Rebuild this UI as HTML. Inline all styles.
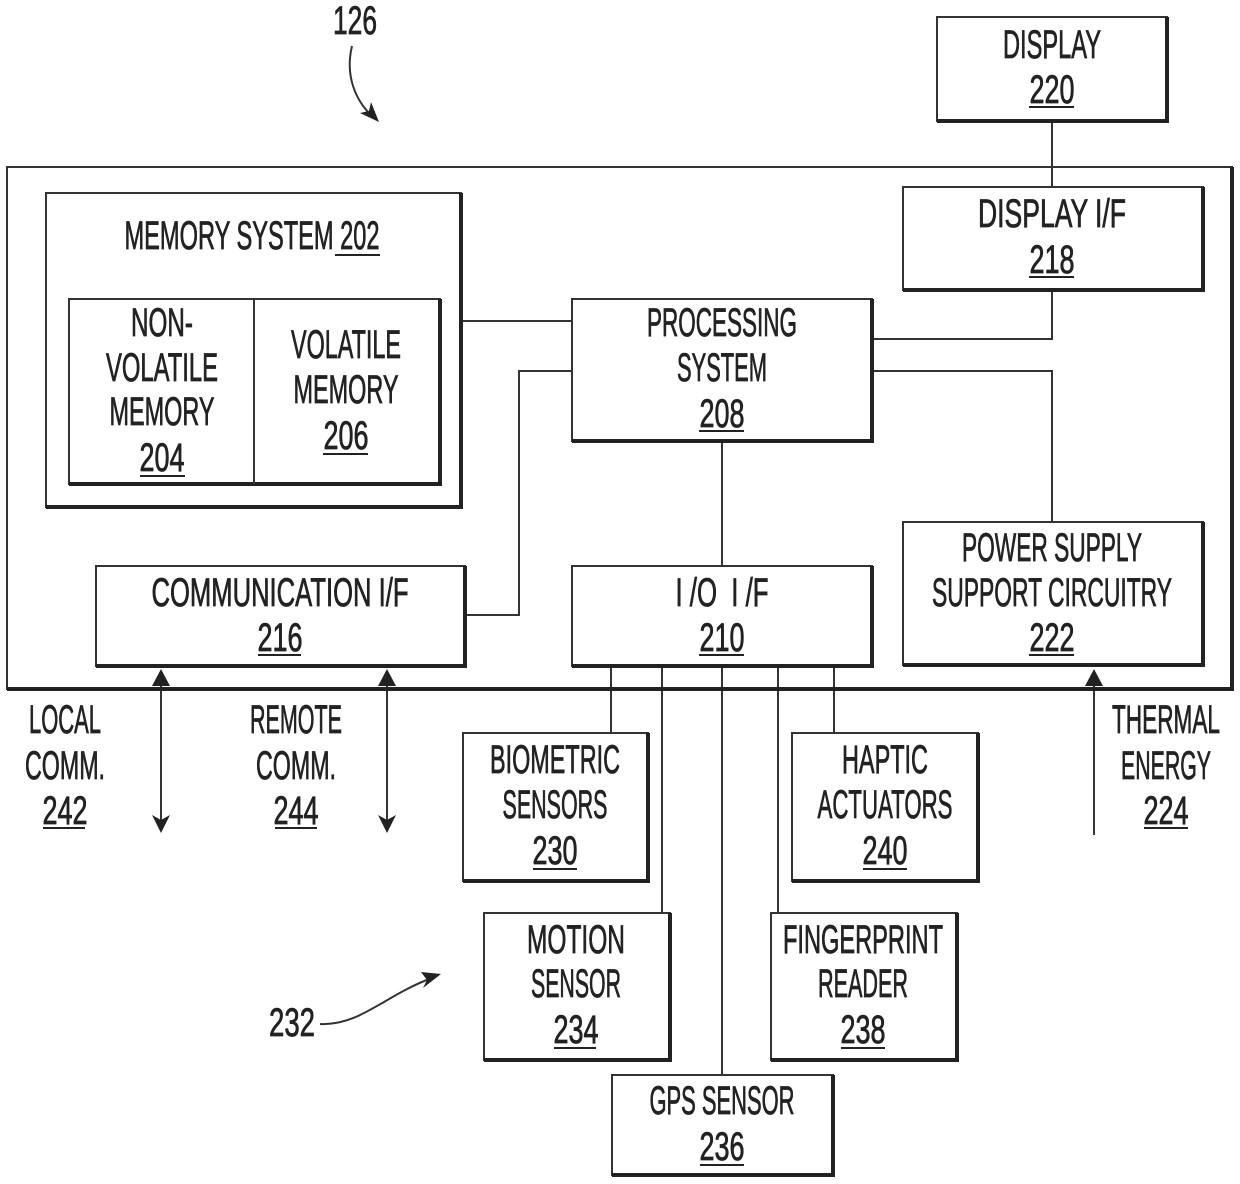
<!DOCTYPE html>
<html><head><meta charset="utf-8"><style>
html,body{margin:0;padding:0;background:#fff}
svg{display:block}
text{font-family:"Liberation Sans",sans-serif;font-size:40px;fill:#222;text-anchor:middle;stroke:#222;stroke-width:.8;white-space:pre}
.b{fill:none;stroke:#333;stroke-width:2}
.s{fill:none;stroke:#222;stroke-width:4}
.l{fill:none;stroke:#333;stroke-width:2}
.u{stroke:#222;stroke-width:2}
.h{fill:#222;stroke:none}
</style></head><body>
<svg width="1240" height="1184" viewBox="0 0 1240 1184" xmlns="http://www.w3.org/2000/svg">
<!-- connectors -->
<path class="l" d="M1052 121V187M1052 290V339H872M461 321H572M572 371H519V615H465M872 371H1052V522M722 441V566M611 666V733M662 666V913M722 666V1075M778 666V913M834 666V733"/>
<path class="l" d="M161 672V826M387 672V826M1094 672V835"/>
<!-- boxes -->
<rect class="b" x="7" y="167" width="1225" height="522"/><path class="s" d="M7 689H1232V167"/>
<rect class="b" x="937" y="17" width="230" height="104"/><path class="s" d="M937 121H1167V17"/>
<rect class="b" x="46" y="193" width="415" height="314"/><path class="s" d="M46 507H461V193"/>
<rect class="b" x="69" y="299" width="371" height="185"/><path class="s" d="M69 484H440V299"/><path class="l" d="M254 299V484"/>
<rect class="b" x="572" y="299" width="300" height="142"/><path class="s" d="M572 441H872V299"/>
<rect class="b" x="903" y="187" width="300" height="103"/><path class="s" d="M903 290H1203V187"/>
<rect class="b" x="903" y="522" width="300" height="143"/><path class="s" d="M903 665H1203V522"/>
<rect class="b" x="96" y="566" width="369" height="100"/><path class="s" d="M96 666H465V566"/>
<rect class="b" x="572" y="566" width="300" height="100"/><path class="s" d="M572 666H872V566"/>
<rect class="b" x="463" y="733" width="185" height="148"/><path class="s" d="M463 881H648V733"/>
<rect class="b" x="792" y="733" width="186" height="148"/><path class="s" d="M792 881H978V733"/>
<rect class="b" x="484" y="913" width="186" height="147"/><path class="s" d="M484 1060H670V913"/>
<rect class="b" x="771" y="913" width="186" height="147"/><path class="s" d="M771 1060H957V913"/>
<rect class="b" x="612" y="1075" width="221" height="100"/><path class="s" d="M612 1175H833V1075"/>
<!-- arrowheads -->
<path class="h" d="M161 669L152 686H170Z"/><path class="h" d="M161 833L152 815L161 820L170 815Z"/>
<path class="h" d="M387 669L378 686H396Z"/><path class="h" d="M387 833L378 815L387 820L396 815Z"/>
<path class="h" d="M1094 669L1085 686H1103Z"/>
<!-- reference arrows -->
<path class="l" d="M352 46C345 75 355 100 372 116"/><path class="h" d="M379 122L360 113L369 111L371 102Z"/>
<path class="l" d="M320 1024C360 1026 385 995 432 978"/><path class="h" d="M441 974L421 972L427 980L423 988Z"/>
<!-- text -->
<text x="355" y="34" textLength="44" lengthAdjust="spacingAndGlyphs">126</text>
<text x="1052" y="58" textLength="98" lengthAdjust="spacingAndGlyphs">DISPLAY</text>
<text x="1052" y="103" textLength="45" lengthAdjust="spacingAndGlyphs">220</text><path class="u" d="M1029 107H1074"/>
<text x="1052" y="227" textLength="148" lengthAdjust="spacingAndGlyphs">DISPLAY I/F</text>
<text x="1052" y="273" textLength="45" lengthAdjust="spacingAndGlyphs">218</text><path class="u" d="M1029 277H1074"/>
<text x="252" y="249" textLength="255" lengthAdjust="spacingAndGlyphs">MEMORY SYSTEM 202</text><path class="u" d="M335 255H380"/>
<text x="162" y="336" textLength="62" lengthAdjust="spacingAndGlyphs">NON-</text>
<text x="162" y="381" textLength="112" lengthAdjust="spacingAndGlyphs">VOLATILE</text>
<text x="162" y="425" textLength="105" lengthAdjust="spacingAndGlyphs">MEMORY</text>
<text x="162" y="471" textLength="45" lengthAdjust="spacingAndGlyphs">204</text><path class="u" d="M140 476H185"/>
<text x="346" y="358" textLength="110" lengthAdjust="spacingAndGlyphs">VOLATILE</text>
<text x="346" y="403" textLength="105" lengthAdjust="spacingAndGlyphs">MEMORY</text>
<text x="346" y="449" textLength="45" lengthAdjust="spacingAndGlyphs">206</text><path class="u" d="M323 454H368"/>
<text x="722" y="336" textLength="150" lengthAdjust="spacingAndGlyphs">PROCESSING</text>
<text x="722" y="381" textLength="90" lengthAdjust="spacingAndGlyphs">SYSTEM</text>
<text x="722" y="427" textLength="45" lengthAdjust="spacingAndGlyphs">208</text><path class="u" d="M699 431H744"/>
<text x="280" y="606" textLength="257" lengthAdjust="spacingAndGlyphs">COMMUNICATION I/F</text>
<text x="280" y="651" textLength="45" lengthAdjust="spacingAndGlyphs">216</text><path class="u" d="M258 655H301"/>
<text x="722" y="606" textLength="93" lengthAdjust="spacingAndGlyphs">I /O  I /F</text>
<text x="722" y="651" textLength="45" lengthAdjust="spacingAndGlyphs">210</text><path class="u" d="M699 655H744"/>
<text x="1052" y="561" textLength="180" lengthAdjust="spacingAndGlyphs">POWER SUPPLY</text>
<text x="1052" y="606" textLength="240" lengthAdjust="spacingAndGlyphs">SUPPORT CIRCUITRY</text>
<text x="1052" y="651" textLength="45" lengthAdjust="spacingAndGlyphs">222</text><path class="u" d="M1029 655H1074"/>
<text x="65" y="733" textLength="72" lengthAdjust="spacingAndGlyphs">LOCAL</text>
<text x="65" y="779" textLength="80" lengthAdjust="spacingAndGlyphs">COMM.</text>
<text x="65" y="824" textLength="45" lengthAdjust="spacingAndGlyphs">242</text><path class="u" d="M43 828H85"/>
<text x="296" y="733" textLength="92" lengthAdjust="spacingAndGlyphs">REMOTE</text>
<text x="296" y="779" textLength="80" lengthAdjust="spacingAndGlyphs">COMM.</text>
<text x="296" y="824" textLength="45" lengthAdjust="spacingAndGlyphs">244</text><path class="u" d="M275 828H317"/>
<text x="1166" y="733" textLength="108" lengthAdjust="spacingAndGlyphs">THERMAL</text>
<text x="1166" y="779" textLength="90" lengthAdjust="spacingAndGlyphs">ENERGY</text>
<text x="1166" y="824" textLength="45" lengthAdjust="spacingAndGlyphs">224</text><path class="u" d="M1144 828H1188"/>
<text x="555" y="773" textLength="130" lengthAdjust="spacingAndGlyphs">BIOMETRIC</text>
<text x="555" y="818" textLength="105" lengthAdjust="spacingAndGlyphs">SENSORS</text>
<text x="555" y="864" textLength="45" lengthAdjust="spacingAndGlyphs">230</text><path class="u" d="M533 869H577"/>
<text x="885" y="773" textLength="86" lengthAdjust="spacingAndGlyphs">HAPTIC</text>
<text x="885" y="818" textLength="135" lengthAdjust="spacingAndGlyphs">ACTUATORS</text>
<text x="885" y="864" textLength="45" lengthAdjust="spacingAndGlyphs">240</text><path class="u" d="M863 869H907"/>
<text x="576" y="953" textLength="98" lengthAdjust="spacingAndGlyphs">MOTION</text>
<text x="576" y="997" textLength="90" lengthAdjust="spacingAndGlyphs">SENSOR</text>
<text x="576" y="1043" textLength="45" lengthAdjust="spacingAndGlyphs">234</text><path class="u" d="M554 1048H596"/>
<text x="863" y="953" textLength="160" lengthAdjust="spacingAndGlyphs">FINGERPRINT</text>
<text x="863" y="997" textLength="90" lengthAdjust="spacingAndGlyphs">READER</text>
<text x="863" y="1043" textLength="45" lengthAdjust="spacingAndGlyphs">238</text><path class="u" d="M841 1048H885"/>
<text x="722" y="1114" textLength="145" lengthAdjust="spacingAndGlyphs">GPS SENSOR</text>
<text x="722" y="1160" textLength="45" lengthAdjust="spacingAndGlyphs">236</text><path class="u" d="M700 1165H744"/>
<text x="292" y="1036" textLength="46" lengthAdjust="spacingAndGlyphs">232</text>
</svg>
</body></html>
